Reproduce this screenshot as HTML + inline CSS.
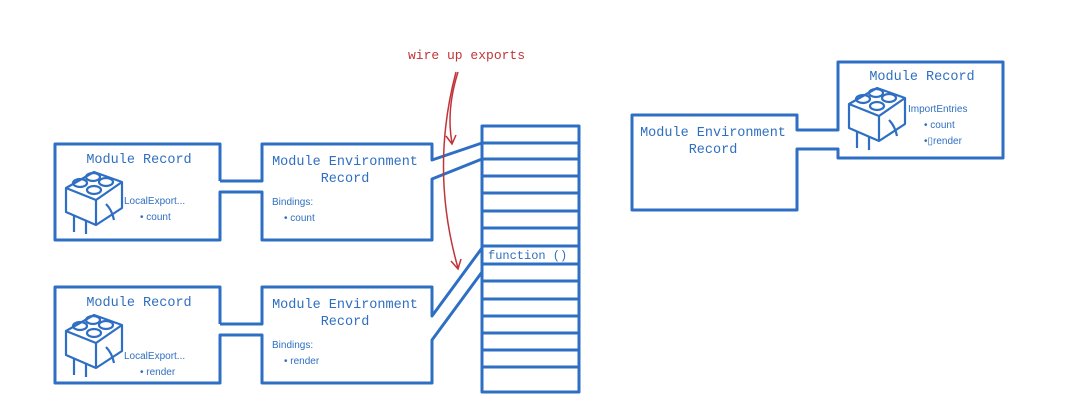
<!DOCTYPE html>
<html><head><meta charset="utf-8"><style>
html,body{margin:0;padding:0;background:#fff;}
svg{display:block}
text{font-family:"Liberation Sans",sans-serif;fill:#2f6fc0}
.m{font-family:"Liberation Mono",monospace}
</style></head><body>
<svg width="1080" height="419" viewBox="0 0 1080 419" xmlns="http://www.w3.org/2000/svg">
<g fill="none" stroke="#2e6fc4" stroke-width="3" stroke-linejoin="round">
<path d="M220,181 V144 H55 V240 H220 V192 H262 V240 H432 V179 L482,159"/>
<path d="M220,181 H262 V144 H432 V160 L482,143"/>
<path d="M220,324 V287 H55 V383 H220 V335 H262 V383 H432 V340 L482,272"/>
<path d="M220,324 H262 V287 H432 V316 L482,248"/>
<rect x="482" y="126" width="97" height="266"/>
<path d="M482,143H579M482,159H579M482,176H579M482,193H579M482,211H579M482,228H579M482,246H579M482,264H579M482,281H579M482,299H579M482,316H579M482,333H579M482,350H579M482,367H579"/>
<path d="M797,130 V115 H632 V210 H797 V149 H838 V158 H1003 V62 H838 V130 Z"/>
<g id="lego" stroke-width="2.2">
<path d="M66,188 L94,172 L122,182 L122,208 L96,225 L66,212 Z"/>
<path d="M66,188 L96,200 L122,182 M96,200 V225"/>
<ellipse cx="80" cy="183" rx="7" ry="4"/><ellipse cx="93" cy="177" rx="7" ry="4"/><ellipse cx="106" cy="182" rx="7" ry="4"/><ellipse cx="94" cy="190" rx="7" ry="4"/>
<path d="M74,216 V232 M86,220 V234 M106,204 Q112,210 114,220"/>
</g>
<use href="#lego" transform="translate(0,143)"/>
<use href="#lego" transform="translate(783,-84)"/>
</g>
<g font-size="13.5" class="m">
<text class="m" x="139" y="163" text-anchor="middle">Module Record</text>
<text class="m" x="139" y="306" text-anchor="middle">Module Record</text>
<text class="m" x="922" y="80" text-anchor="middle">Module Record</text>
<text class="m" x="345" y="165" text-anchor="middle">Module Environment</text>
<text class="m" x="345" y="182" text-anchor="middle">Record</text>
<text class="m" x="345" y="308" text-anchor="middle">Module Environment</text>
<text class="m" x="345" y="325" text-anchor="middle">Record</text>
<text class="m" x="713" y="136" text-anchor="middle">Module Environment</text>
<text class="m" x="713" y="153" text-anchor="middle">Record</text>
<text class="m" x="488" y="259" font-size="12">function ()</text>
</g>
<g font-size="10">
<text x="124" y="204">LocalExport...</text>
<text x="140" y="220">• count</text>
<text x="124" y="359">LocalExport...</text>
<text x="140" y="375">• render</text>
<text x="272" y="205">Bindings:</text>
<text x="284" y="221">• count</text>
<text x="272" y="348">Bindings:</text>
<text x="284" y="364">• render</text>
<text x="908" y="112">ImportEntries</text>
<text x="924" y="128">• count</text>
<text x="924" y="144">•▯render</text>
</g>
<text class="m" x="408" y="59" font-size="13" style="fill:#c0353a">wire up exports</text>
<g fill="none" stroke="#c0353a" stroke-width="1.5">
<path d="M458,72 Q446,110 452,143 M446,136 L452,144 L456,135"/>
<path d="M456,72 Q430,170 458,268 M451,261 L458,269 L461,259"/>
</g>
</svg>
</body></html>
